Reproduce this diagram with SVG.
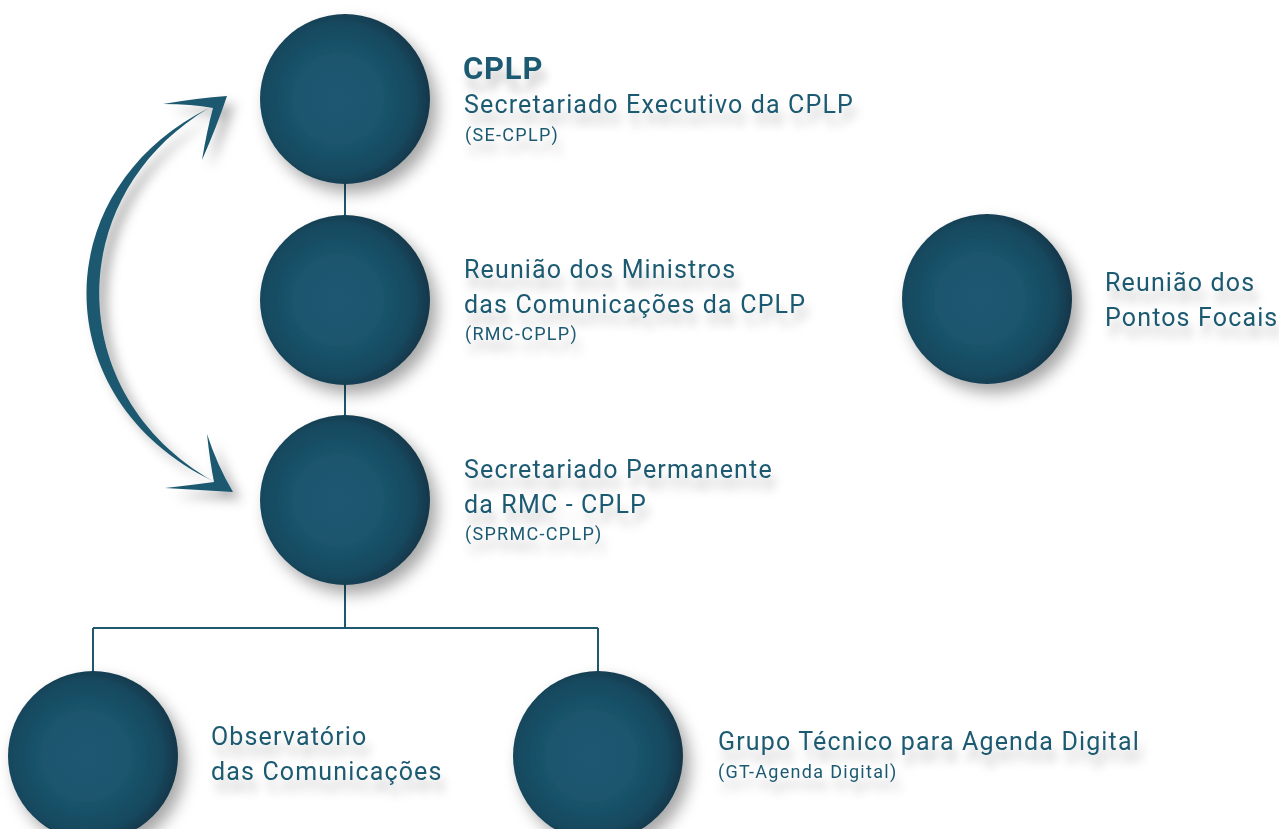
<svg xmlns="http://www.w3.org/2000/svg" width="1279" height="829" viewBox="0 0 1279 829">
<defs>
<radialGradient id="ball" cx="0.46" cy="0.5" r="0.55">
<stop offset="0" stop-color="#1b5871"/>
<stop offset="0.45" stop-color="#1a556d"/>
<stop offset="0.8" stop-color="#174a60"/>
<stop offset="1" stop-color="#123447"/>
</radialGradient>
<filter id="sh" x="-30%" y="-30%" width="170%" height="170%">
<feDropShadow dx="7" dy="9" stdDeviation="8" flood-color="#000" flood-opacity="0.35"/>
</filter>
<filter id="tsh" x="-10%" y="-50%" width="120%" height="250%">
<feDropShadow dx="4" dy="12" stdDeviation="5" flood-color="#000" flood-opacity="0.22"/>
</filter>
<filter id="ash" x="-50%" y="-20%" width="200%" height="140%">
<feDropShadow dx="8" dy="8" stdDeviation="6" flood-color="#000" flood-opacity="0.3"/>
</filter>
</defs>
<style>
.ball{fill:url(#ball);filter:url(#sh)}
.t{font-family:Roboto,"Liberation Sans",sans-serif;fill:#1d5a72;filter:url(#tsh)}
.m{font-size:25px;letter-spacing:1.15px}
.s{font-size:18px;letter-spacing:1.3px}
.b{font-size:31px;font-weight:bold;letter-spacing:0.8px}
.ln{fill:none;stroke:#1d5870;stroke-width:2}
</style>
<rect width="1279" height="829" fill="#fff"/>
<g id="connectors">
<path class="ln" d="M345,184V216M345,384V416M345,584V628M93,628H598M93,628V672M598,628V672"/>
<g id="cycle-arrow" fill="#1b5870" filter="url(#ash)">
<path d="M209,108 C45,190 45,400 213,481 C62,395 62,195 209,108Z"/>
<path d="M227,96 Q198,98 163,104 Q192,104 213,108 Q207,130 202,160 Q217,126 227,96Z"/>
<path d="M233,492 Q217,465 207,434 Q210,462 214,482 Q192,485 165,488 Q200,490 233,492Z"/>
</g>
</g>
<g id="n1"><circle class="ball" cx="345" cy="99" r="85"/>
<text class="t b" x="463" y="79">CPLP</text>
<text class="t m" x="464" y="113">Secretariado Executivo da CPLP</text>
<text class="t s" x="465" y="141">(SE-CPLP)</text></g>
<g id="n2"><circle class="ball" cx="345" cy="300" r="85"/>
<text class="t m" x="464" y="278">Reunião dos Ministros</text>
<text class="t m" x="464" y="313">das Comunicações da CPLP</text>
<text class="t s" x="465" y="340">(RMC-CPLP)</text></g>
<g id="n3"><circle class="ball" cx="345" cy="500" r="85"/>
<text class="t m" x="464" y="478">Secretariado Permanente</text>
<text class="t m" x="464" y="513">da RMC - CPLP</text>
<text class="t s" x="465" y="540">(SPRMC-CPLP)</text></g>
<g id="n4"><circle class="ball" cx="987" cy="299" r="85"/>
<text class="t m" x="1105" y="291">Reunião dos</text>
<text class="t m" x="1105" y="326">Pontos Focais</text></g>
<g id="n5"><circle class="ball" cx="93" cy="756" r="85"/>
<text class="t m" x="211" y="745">Observatório</text>
<text class="t m" x="211" y="780">das Comunicações</text></g>
<g id="n6"><circle class="ball" cx="598" cy="756" r="85"/>
<text class="t m" x="718" y="750">Grupo Técnico para Agenda Digital</text>
<text class="t s" x="718" y="778">(GT-Agenda Digital)</text></g>
</svg>
